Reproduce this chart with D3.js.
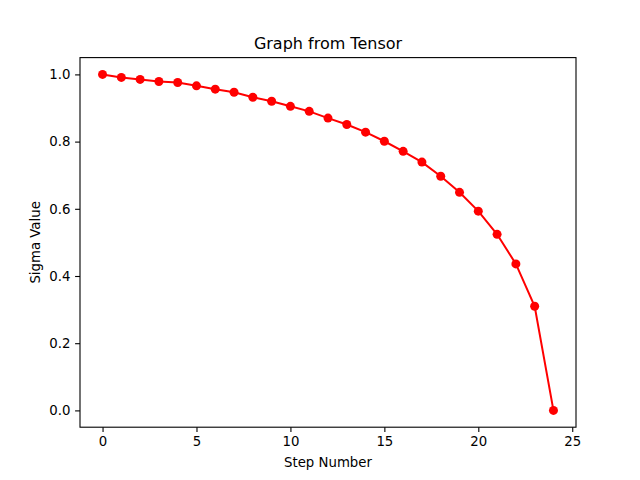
<!DOCTYPE html>
<html>
<head>
<meta charset="utf-8">
<script src="https://cdn.jsdelivr.net/npm/d3@7"></script>
<style>
  body { margin: 0; background: #fff; }
  text { font-family: "DejaVu Sans", sans-serif; }
</style>
</head>
<body>
<div id="chart"></div>
<script>
var steps = d3.range(0, 25);
var sigmas = [1.0, 0.991, 0.985, 0.979, 0.976, 0.966, 0.956, 0.947, 0.932, 0.920,
              0.905, 0.890, 0.870, 0.851, 0.828, 0.801, 0.771, 0.739, 0.697, 0.649,
              0.593, 0.524, 0.436, 0.310, 0.0];
var xTicks = [0, 5, 10, 15, 20, 25];
var yTicks = [0.0, 0.2, 0.4, 0.6, 0.8, 1.0];

var W = 640, H = 480;
var axLeft = 80, axRight = 576, axTop = 57.6, axBottom = 427.2;

var svg = d3.select("#chart").append("svg")
    .attr("width", W).attr("height", H);

var data = steps.map(function(s, i) { return { step: s, sigma: sigmas[i] }; });

var xScale = d3.scaleLinear().domain([-1.2, 25.2]).range([axLeft, axRight]);
var yScale = d3.scaleLinear().domain([-0.05, 1.05]).range([axBottom, axTop]);

// line
svg.append("path")
    .datum(data)
    .attr("d", d3.line().x(function(d) { return xScale(d.step); }).y(function(d) { return yScale(d.sigma); }))
    .attr("fill", "none")
    .attr("stroke", "red")
    .attr("stroke-width", 2);

// markers
svg.selectAll("circle.pt")
    .data(data)
    .enter().append("circle")
    .attr("class", "pt")
    .attr("cx", function(d) { return xScale(d.step); })
    .attr("cy", function(d) { return yScale(d.sigma); })
    .attr("r", 4.5)
    .attr("fill", "red");

// axes
var xAxis = d3.axisBottom(xScale).tickValues(xTicks).tickSize(4.9).tickPadding(4.7).tickFormat(d3.format("d"));
var yAxis = d3.axisLeft(yScale).tickValues(yTicks).tickSize(4.9).tickPadding(4.7).tickFormat(d3.format(".1f"));

var gx = svg.append("g").attr("transform", "translate(0," + axBottom + ")").call(xAxis);
var gy = svg.append("g").attr("transform", "translate(" + axLeft + ",0)").call(yAxis);
[gx, gy].forEach(function(g) {
    g.select(".domain").remove();
    g.selectAll("line").attr("stroke", "#000").attr("stroke-width", 1.1);
    g.selectAll("text").attr("font-size", "13.3px").attr("fill", "#000")
        .attr("font-family", "DejaVu Sans, sans-serif");
});

// frame
svg.append("rect")
    .attr("x", axLeft).attr("y", axTop)
    .attr("width", axRight - axLeft).attr("height", axBottom - axTop)
    .attr("fill", "none").attr("stroke", "#000").attr("stroke-width", 1.1);

// title and labels
svg.append("text")
    .attr("x", (axLeft + axRight) / 2).attr("y", 49)
    .attr("text-anchor", "middle")
    .attr("font-size", "16px")
    .text("Graph from Tensor");

svg.append("text")
    .attr("x", (axLeft + axRight) / 2).attr("y", 467)
    .attr("text-anchor", "middle")
    .attr("font-size", "13.3px")
    .text("Step Number");

svg.append("text")
    .attr("transform", "translate(40," + (axTop + axBottom) / 2 + ") rotate(-90)")
    .attr("text-anchor", "middle")
    .attr("font-size", "13.3px")
    .text("Sigma Value");
</script>
</body>
</html>
